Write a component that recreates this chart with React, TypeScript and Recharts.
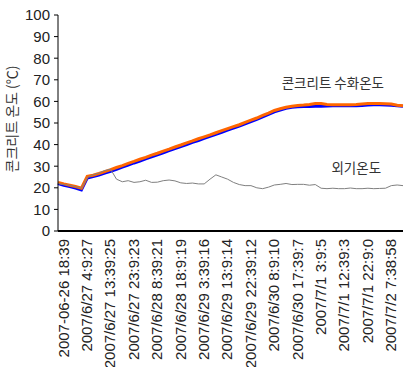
import React from 'react';
import { LineChart, Line, XAxis, YAxis, ReferenceDot } from 'recharts';

const tickLabels = [
  '2007-06-26 18:39', '2007/6/27 4:9:27', '2007/6/27 13:39:25', '2007/6/27 23:9:23',
  '2007/6/28 8:39:21', '2007/6/28 18:9:19', '2007/6/29 3:39:16', '2007/6/29 13:9:14',
  '2007/6/29 22:39:12', '2007/6/30 8:9:10', '2007/6/30 17:39:7', '2007/7/1 3:9:5',
  '2007/7/1 12:39:3', '2007/7/1 22:9:0', '2007/7/2 7:38:58',
];

const concreteA = [
  22.5, 21.8, 21.2, 20.6, 19.8, 25.3, 25.8, 26.6, 27.5, 28.4,
  29.4, 30.3, 31.3, 32.2, 33.2, 34.1, 35.1, 36.0, 37.0, 37.9,
  38.9, 39.8, 40.8, 41.7, 42.7, 43.6, 44.5, 45.5, 46.5, 47.4,
  48.3, 49.2, 50.3, 51.3, 52.3, 53.5, 54.6, 55.8, 56.6, 57.3,
  57.8, 58.1, 58.3, 58.6, 59.0, 59.0, 58.6, 58.5, 58.5, 58.5,
  58.5, 58.6, 58.8, 59.0, 59.0, 59.0, 58.9, 58.8, 58.2, 58.0,
];

const concreteB = [
  22.0, 21.2, 20.6, 19.9, 19.0, 24.5, 25.2, 25.9, 26.8, 27.6,
  28.6, 29.6, 30.5, 31.5, 32.4, 33.4, 34.3, 35.3, 36.2, 37.2,
  38.1, 39.1, 40.0, 41.0, 41.9, 42.9, 43.8, 44.8, 45.7, 46.7,
  47.6, 48.6, 49.6, 50.6, 51.7, 52.8, 54.0, 55.2, 56.0, 56.8,
  57.3, 57.5, 57.6, 57.6, 57.7, 57.8, 57.9, 58.0, 58.0, 58.0,
  58.0, 58.0, 58.1, 58.3, 58.4, 58.4, 58.3, 58.2, 58.0, 57.8,
];

const outside = [
  22.0, 21.5, 21.2, 20.5, 19.8, 24.8, 26.0, 26.8, 28.0, 28.6,
  24.0, 22.8, 23.3, 22.5, 22.8, 23.5, 22.5, 22.6, 23.3, 23.6,
  23.2, 22.3, 22.0, 22.2, 21.8, 21.8, 24.0, 26.0, 25.0, 24.0,
  22.5, 21.5, 21.0, 21.0, 20.0, 19.6, 20.3, 21.3, 21.6, 22.0,
  21.5, 21.6, 21.6, 21.2, 21.5, 19.8, 19.6, 19.8, 19.6, 19.6,
  19.9, 19.6, 19.6, 19.8, 19.6, 19.7, 19.8, 21.0, 21.3, 21.0,
];

const yTicks = [0, 10, 20, 30, 40, 50, 60, 70, 80, 90, 100];
const labelEvery = 4;

const data = concreteA.map((v, i) => ({
  idx: i,
  a: v,
  b: concreteB[i],
  o: outside[i],
}));

const xTicks = tickLabels.map((_, k) => k * labelEvery);

const FONT = "'Liberation Sans', Arial, 'Noto Sans CJK KR', sans-serif";
const KFONT = "'Noto Sans CJK KR', 'Liberation Sans', sans-serif";

export default function App() {
  return (
    <div style={{ position: 'absolute', left: 0, top: 0, background: '#fff' }}>
      <LineChart
        width={404}
        height={367}
        data={data}
        margin={{ top: 15, right: 1, left: 0, bottom: 0 }}
      >
        <XAxis
          dataKey="idx"
          type="category"
          ticks={xTicks}
          interval={0}
          tickFormatter={(i: number) => tickLabels[Math.round(i / labelEvery)] ?? ''}
          height={136}
          tickLine={false}
          tickSize={4}
          tickMargin={4}
          angle={-90}
          textAnchor="end"
          axisLine={{ stroke: '#000', strokeWidth: 2 }}
          tick={{ fill: '#222', fontSize: 15, fontFamily: FONT }}
        />
        <YAxis
          type="number"
          domain={[0, 100]}
          ticks={yTicks}
          interval={0}
          width={58}
          tickSize={4}
          tickMargin={4}
          axisLine={{ stroke: '#000', strokeWidth: 1 }}
          tickLine={{ stroke: '#000' }}
          tick={{ fill: '#222', fontSize: 15, fontFamily: FONT }}
          label={{
            value: '콘크리트 온도 (℃)',
            angle: -90,
            position: 'insideLeft',
            offset: 12,
            dy: -4,
            style: { fill: '#333', fontSize: 14, fontFamily: KFONT, textAnchor: 'middle' },
          }}
        />
        <Line
          dataKey="b"
          stroke="#0000FF"
          strokeWidth={3}
          dot={false}
          isAnimationActive={false}
        />
        <Line
          dataKey="a"
          stroke="#FF6600"
          strokeWidth={3}
          dot={false}
          isAnimationActive={false}
        />
        <Line
          dataKey="o"
          stroke="#808080"
          strokeWidth={1}
          dot={false}
          isAnimationActive={false}
        />
        <ReferenceDot
          x={47}
          y={68.5}
          r={0}
          fill="none"
          stroke="none"
          label={{
            value: '콘크리트 수화온도',
            position: 'center',
            style: { fill: '#333', fontSize: 13.5, fontFamily: KFONT },
          }}
        />
        <ReferenceDot
          x={51}
          y={29.2}
          r={0}
          fill="none"
          stroke="none"
          label={{
            value: '외기온도',
            position: 'center',
            style: { fill: '#333', fontSize: 13.5, fontFamily: KFONT },
          }}
        />
      </LineChart>
    </div>
  );
}
